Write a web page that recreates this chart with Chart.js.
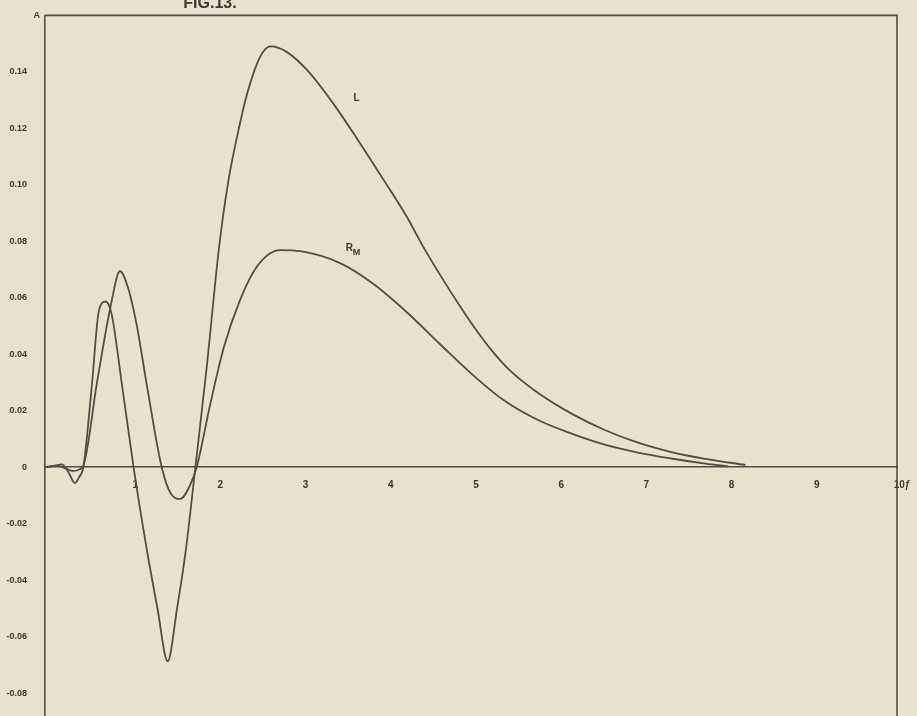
<!DOCTYPE html>
<html>
<head>
<meta charset="utf-8">
<script src="https://cdn.jsdelivr.net/npm/chart.js@4.4.0/dist/chart.umd.min.js"></script>
<style>
  html, body { margin: 0; padding: 0; background: #e7e1ce; overflow: hidden; }
  #wrap { width: 917px; height: 716px; overflow: hidden; }
</style>
</head>
<body>
<div id="wrap"><canvas id="myChart" width="917" height="734"></canvas></div>
<script>
// values
var xTicks = [1, 2, 3, 4, 5, 6, 7, 8, 9, 10];
var xTickText = ['1', '2', '3', '4', '5', '6', '7', '8', '9', '10ƒ'];
var yTicks = [0.16, 0.14, 0.12, 0.10, 0.08, 0.06, 0.04, 0.02, 0, -0.02, -0.04, -0.06, -0.08];
var yTickText = ['A', '0.14', '0.12', '0.10', '0.08', '0.06', '0.04', '0.02', '0', '-0.02', '-0.04', '-0.06', '-0.08'];

var lX = [0, 0.1, 0.2, 0.28, 0.35, 0.41, 0.45, 0.553, 0.63, 0.71, 0.78, 0.9, 1.04, 1.2, 1.32, 1.44, 1.55, 1.65, 1.765, 1.9, 2.04, 2.15, 2.29, 2.37, 2.49, 2.57, 2.65, 2.84, 3.08, 3.39, 3.67, 3.98, 4.25, 4.45, 4.65, 4.85, 5.04, 5.24, 5.45, 5.78, 6.18, 6.57, 6.96, 7.35, 7.75, 8.22];
var lY = [0, 0.0005, 0.001, -0.002, -0.0056, -0.003, 0, 0.03, 0.055, 0.0587, 0.0545, 0.03, 0, -0.03, -0.05, -0.0687, -0.05, -0.03, 0, 0.036, 0.0771, 0.101, 0.122, 0.132, 0.143, 0.1475, 0.149, 0.147, 0.1405, 0.1285, 0.116, 0.1015, 0.0885, 0.0775, 0.0675, 0.058, 0.0495, 0.0415, 0.0345, 0.0265, 0.019, 0.0132, 0.0087, 0.0054, 0.003, 0.0008];

var rX = [0, 0.15, 0.25, 0.32, 0.44, 0.61, 0.77, 0.88, 0.98, 1.08, 1.19, 1.37, 1.48, 1.59, 1.7, 1.78, 1.94, 2.1, 2.29, 2.49, 2.76, 3.0, 3.47, 3.86, 4.25, 4.65, 5.04, 5.39, 5.78, 6.18, 6.57, 6.96, 7.35, 7.75, 8.02];
var rY = [0, 0.0005, -0.0005, -0.0013, 0, 0.03, 0.057, 0.0694, 0.063, 0.0498, 0.03, 0, -0.0095, -0.0112, -0.0065, 0, 0.0224, 0.0426, 0.0593, 0.0712, 0.0769, 0.0765, 0.0722, 0.0648, 0.0548, 0.0432, 0.0322, 0.0236, 0.0168, 0.0119, 0.008, 0.0052, 0.0031, 0.0013, 0.0003];

var ink = '#524d46';
var textInk = '#3c3934';

function pts(xs, ys) {
    return xs.map(function (x, i) { return { x: x, y: ys[i] }; });
}

// frame, figure caption, axis letter and curve names
var paperPlugin = {
    id: 'paper',
    beforeDraw: function (chart) {
        var c = chart.ctx;
        c.save();
        c.fillStyle = '#e7e1ce';
        c.fillRect(0, 0, chart.width, chart.height);
        c.restore();
    },
    afterDraw: function (chart) {
        var c = chart.ctx, a = chart.chartArea;
        var xs = chart.scales.x, ys = chart.scales.y;
        c.save();
        c.strokeStyle = ink;
        c.lineWidth = 1.6;
        c.beginPath();
        c.moveTo(a.left, a.top);
        c.lineTo(a.right, a.top);
        c.lineTo(a.right, chart.height);
        c.stroke();

        c.fillStyle = textInk;
        c.font = 'bold 16px "Liberation Sans Narrow", "Liberation Sans", sans-serif';
        c.textAlign = 'center';
        c.textBaseline = 'alphabetic';
        c.fillText('FIG.13.', 210, 8);

        // axis letter at the top of the vertical axis
        c.font = 'bold 9px "Liberation Sans", sans-serif';
        c.textAlign = 'right';
        c.textBaseline = 'middle';
        c.fillText(yTickText[0], a.left - 5, ys.getPixelForValue(yTicks[0]));

        c.font = 'bold 10px "Liberation Sans", sans-serif';
        c.textAlign = 'left';
        c.fillText('L', xs.getPixelForValue(3.62), ys.getPixelForValue(0.1305));
        var rx = xs.getPixelForValue(3.53), ry = ys.getPixelForValue(0.0775);
        c.fillText('R', rx, ry);
        c.font = 'bold 9px "Liberation Sans", sans-serif';
        c.fillText('M', rx + 7, ry + 4);
        c.restore();
    }
};

var ctx = document.getElementById('myChart').getContext('2d');
var myChart = new Chart(ctx, {
    type: 'line',
    data: {
        datasets: [{
            label: 'L',
            data: pts(lX, lY),
            borderColor: ink,
            borderWidth: 1.8,
            pointRadius: 0,
            cubicInterpolationMode: 'monotone',
            fill: false
        },
        {
            label: 'R_M',
            data: pts(rX, rY),
            borderColor: ink,
            borderWidth: 1.8,
            pointRadius: 0,
            cubicInterpolationMode: 'monotone',
            fill: false
        }]
    },
    options: {
        responsive: false,
        animation: false,
        layout: { padding: { left: 0, top: 15, right: 20, bottom: 0 } },
        plugins: {
            legend: { display: false },
            tooltip: { enabled: false }
        },
        scales: {
            x: {
                type: 'linear',
                position: { y: 0 },
                min: 0,
                max: 10,
                grid: { display: false },
                border: { display: true, color: ink, width: 1.6 },
                afterFit: function (scale) { scale.height = 0; },
                afterBuildTicks: function (scale) {
                    scale.ticks = xTicks.map(function (v) { return { value: v }; });
                },
                ticks: {
                    color: textInk,
                    padding: 4,
                    labelOffset: 5,
                    maxRotation: 0,
                    autoSkip: false,
                    font: { family: '"Liberation Sans", sans-serif', size: 10, weight: 'bold' },
                    callback: function (v) { return xTickText[xTicks.indexOf(v)]; }
                }
            },
            y: {
                type: 'linear',
                min: -0.089,
                max: 0.16,
                grid: { display: false },
                border: { display: true, color: ink, width: 1.6 },
                afterFit: function (scale) { scale.width = 45; },
                afterBuildTicks: function (scale) {
                    scale.ticks = yTicks.map(function (v) { return { value: v }; });
                },
                ticks: {
                    color: textInk,
                    padding: 10,
                    autoSkip: false,
                    font: { family: '"Liberation Sans", sans-serif', size: 9, weight: 'bold' },
                    callback: function (v) {
                        var i = yTicks.findIndex(function (t) { return Math.abs(t - v) < 1e-9; });
                        // the top letter is drawn by the plugin, nearer the axis
                        return i > 0 ? yTickText[i] : '';
                    }
                }
            }
        }
    },
    plugins: [paperPlugin]
});
</script>
</body>
</html>
